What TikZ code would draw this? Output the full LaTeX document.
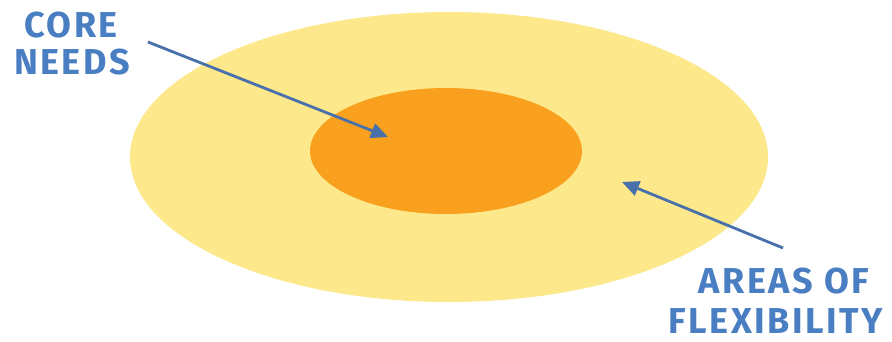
\documentclass[tikz,border=0pt]{standalone}
\usepackage{fontspec}
\newfontfamily\lblfont[LetterSpace=7]{Fira Sans}
\usetikzlibrary{arrows.meta}
\definecolor{outerY}{RGB}{253,233,140}
\definecolor{innerO}{RGB}{249,160,30}
\definecolor{txtB}{RGB}{74,126,194}
\definecolor{arrB}{RGB}{72,112,170}
\tikzset{
  lbl/.style={font=\lblfont\bfseries\fontsize{36}{40}\selectfont, text=txtB, inner sep=0pt, anchor=base},
  ptr/.style={draw=arrB, line width=2.8pt, -{Triangle[length=17pt,width=15pt]}}
}
\begin{document}
\begin{tikzpicture}[x=1pt,y=1pt]
\useasboundingbox[fill=white] (0,0) rectangle (892,341);
\fill[outerY] (449,184) ellipse [x radius=319, y radius=145];
\fill[innerO] (446,190) ellipse [x radius=136, y radius=63];
\node[lbl] (core) at (71,304) {CORE};
\node[lbl] (needs) at (72,266) {NEEDS};
\node[lbl] (areas) at (784,48) {AREAS OF};
\node[lbl] (flex) at (776,8) {FLEXIBILITY};
\coordinate (s1) at (148,299);
\coordinate (t1) at (388,204);
\coordinate (s2) at (783,93);
\coordinate (t2) at (622,159);
\draw[ptr] (s1) -- (t1);
\draw[ptr] (s2) -- (t2);
\end{tikzpicture}
\end{document}
